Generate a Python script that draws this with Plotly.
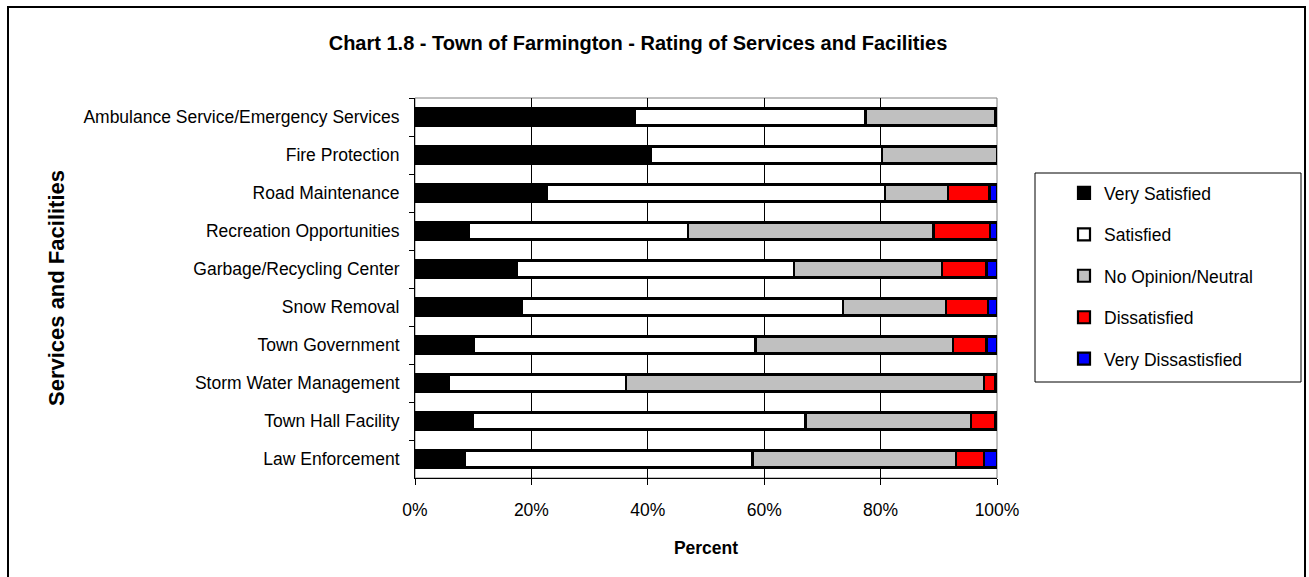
import plotly.graph_objects as go

# Services rated, listed top to bottom
services = [
    "Ambulance Service/Emergency Services",
    "Fire Protection",
    "Road Maintenance",
    "Recreation Opportunities",
    "Garbage/Recycling Center",
    "Snow Removal",
    "Town Government",
    "Storm Water Management",
    "Town Hall Facility",
    "Law Enforcement",
]

# Share of respondents (percent) per rating
very_satisfied = [37.8, 40.5, 22.6, 9.2, 17.5, 18.4, 10.1, 5.9, 9.9, 8.6]
satisfied = [39.6, 39.8, 58.1, 37.7, 47.6, 55.1, 48.4, 30.4, 57.2, 49.4]
neutral = [22.3, 19.7, 10.9, 42.2, 25.4, 17.7, 34.0, 61.4, 28.5, 34.9]
dissatisfied = [0.3, 0.0, 7.1, 9.7, 7.7, 7.2, 5.7, 2.0, 4.1, 4.9]
very_dissatisfied = [0.0, 0.0, 1.3, 1.2, 1.8, 1.6, 1.8, 0.3, 0.3, 2.2]

series = [
    ("Very Satisfied", very_satisfied, "#000000"),
    ("Satisfied", satisfied, "#ffffff"),
    ("No Opinion/Neutral", neutral, "#c0c0c0"),
    ("Dissatisfied", dissatisfied, "#ff0000"),
    ("Very Dissastisfied", very_dissatisfied, "#0000ff"),
]

FONT = "Liberation Sans, Arial, sans-serif"

fig = go.Figure()
for i, (name, vals, color) in enumerate(series):
    fig.add_trace(go.Bar(
        y=services,
        x=[v / 100 for v in vals],
        name=name,
        orientation="h",
        marker=dict(color=color, line=dict(color="#000000", width=2.2)),
        legendgroup=f"g{i}",
    ))

# Plot area occupies x 415..997, y 98..478 in a 1309x577 canvas
L, R, T, B = 415, 997, 98, 478
W, H = 1309, 577


def px(x):
    return (x - L) / (R - L)


def py(y):
    return (B - y) / (B - T)


fig.update_layout(
    width=W,
    height=H,
    barmode="stack",
    bargap=0.55,
    margin=dict(l=L, r=W - R, t=T, b=H - B, pad=0),
    paper_bgcolor="#ffffff",
    plot_bgcolor="#ffffff",
    font=dict(family=FONT, size=17.5, color="#000000"),
    title=dict(
        text="<b>Chart 1.8 - Town of Farmington - Rating of Services and Facilities</b>",
        x=638 / W, xref="container", xanchor="center",
        y=1 - 43 / H, yref="container", yanchor="middle",
        font=dict(family=FONT, size=20, color="#000000"),
    ),
    xaxis=dict(
        range=[0, 1],
        tickformat=".0%",
        tickvals=[0, 0.2, 0.4, 0.6, 0.8, 1.0],
        showgrid=True,
        gridcolor="#000000",
        gridwidth=1,
        showline=True,
        linecolor="#000000",
        linewidth=1,
        ticks="outside",
        ticklen=6,
        tickcolor="#000000",
        tickfont=dict(family=FONT, size=17.5),
        ticklabelstandoff=10,
        title=dict(text="<b>Percent</b>", font=dict(family=FONT, size=17.5), standoff=22),
        zeroline=False,
    ),
    yaxis=dict(
        autorange="reversed",
        showline=True,
        linecolor="#000000",
        linewidth=1,
        ticks="outside",
        tickson="boundaries",
        ticklen=5,
        tickcolor="#000000",
        tickfont=dict(family=FONT, size=17.5),
        ticklabelstandoff=11,
        title=dict(text="<b>Services and Facilities</b>", font=dict(family=FONT, size=22), standoff=12),
        showgrid=False,
    ),
    legend=dict(
        x=px(1064), xanchor="left",
        y=py(175), yanchor="top",
        traceorder="grouped",
        tracegroupgap=15.7,
        font=dict(family=FONT, size=17.5),
        bgcolor="rgba(0,0,0,0)",
        borderwidth=0,
    ),
    shapes=[
        # plot area frame
        dict(type="rect", xref="paper", yref="paper", x0=0, x1=1, y0=0, y1=1,
             line=dict(color="#808080", width=1), layer="below"),
        # legend frame
        dict(type="rect", xref="paper", yref="paper",
             x0=px(1035), x1=px(1301), y0=py(382), y1=py(173),
             line=dict(color="#000000", width=1)),
        # outer chart frame
        dict(type="rect", xref="paper", yref="paper",
             x0=px(8), x1=px(1305), y0=py(590), y1=py(7),
             line=dict(color="#000000", width=2)),
    ],
)

fig.write_html("out.html")
